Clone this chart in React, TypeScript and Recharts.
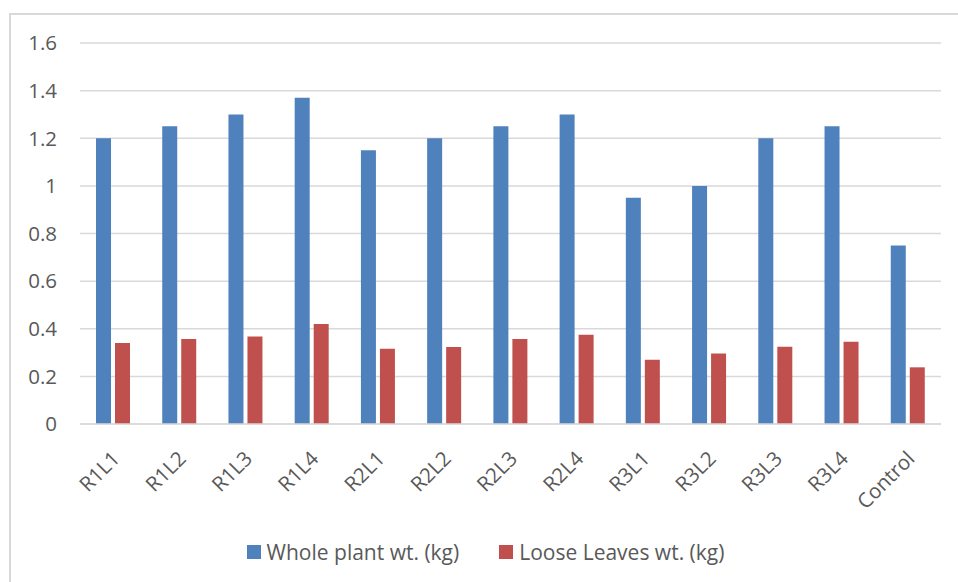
import React from 'react';
import { BarChart, Bar, XAxis, YAxis, CartesianGrid, Legend } from 'recharts';

const categories = ['R1L1', 'R1L2', 'R1L3', 'R1L4', 'R2L1', 'R2L2', 'R2L3', 'R2L4', 'R3L1', 'R3L2', 'R3L3', 'R3L4', 'Control'];
const wholePlant = [1.2, 1.25, 1.3, 1.37, 1.15, 1.2, 1.25, 1.3, 0.95, 1.0, 1.2, 1.25, 0.75];
const looseLeaves = [0.34, 0.357, 0.367, 0.42, 0.316, 0.323, 0.357, 0.375, 0.27, 0.296, 0.324, 0.345, 0.238];
const yTicks = [0, 0.2, 0.4, 0.6, 0.8, 1, 1.2, 1.4, 1.6];

const seriesNames = ['Whole plant wt. (kg)', 'Loose Leaves wt. (kg)'];
const colors = ['#4F81BD', '#C0504D'];
const FONT = '"Open Sans", sans-serif';
const TEXT = '#595959';
const FS = 20.5;

const data = categories.map((name, i) => ({
  name,
  whole: wholePlant[i],
  loose: looseLeaves[i],
}));

const XTick = (props: any) => {
  const { x, y, payload } = props;
  return (
    <g transform={`translate(${x + 8},${y + 28})`}>
      <text transform="rotate(-45)" textAnchor="end" fill={TEXT} fontSize={FS} fontFamily={FONT}>
        {payload.value}
      </text>
    </g>
  );
};

const LegendContent = () => (
  <div style={{ display: 'flex', justifyContent: 'center', paddingLeft: 30, fontFamily: FONT, fontSize: 21, color: TEXT, height: 40, alignItems: 'center' }}>
    {seriesNames.map((n, i) => (
      <div key={n} style={{ display: 'flex', alignItems: 'center', marginRight: i === 0 ? 40 : 0 }}>
        <span style={{ width: 14, height: 14, background: colors[i], display: 'inline-block', marginRight: 6 }} />
        <span>{n}</span>
      </div>
    ))}
  </div>
);

export default function App() {
  return (
    <div style={{ position: 'absolute', left: 0, top: 0, width: 958, height: 582, background: '#fff', overflow: 'hidden' }}>
      <div style={{ position: 'absolute', left: 9, top: 13, width: 960, height: 580, border: '2px solid #d9d9d9' }} />
      <BarChart
        width={958}
        height={582}
        data={data}
        margin={{ top: 43, right: 17, bottom: 10, left: 0 }}
        barGap={4}
        barSize={15}
      >
        <CartesianGrid vertical={false} stroke="#d9d9d9" strokeWidth={1.5} />
        <XAxis
          dataKey="name"
          interval={0}
          height={108}
          tick={<XTick />}
          axisLine={{ stroke: '#d9d9d9', strokeWidth: 1.5 }}
          tickLine={false}
        />
        <YAxis
          width={80}
          domain={[0, 1.6]}
          ticks={yTicks}
          axisLine={false}
          tickLine={false}
          tickSize={0}
          tickMargin={23}
          tick={{ fill: TEXT, fontSize: FS, fontFamily: FONT }}
        />
        <Legend verticalAlign="bottom" content={<LegendContent />} />
        <Bar dataKey="whole" name={seriesNames[0]} fill={colors[0]} isAnimationActive={false} />
        <Bar dataKey="loose" name={seriesNames[1]} fill={colors[1]} isAnimationActive={false} />
      </BarChart>
    </div>
  );
}
